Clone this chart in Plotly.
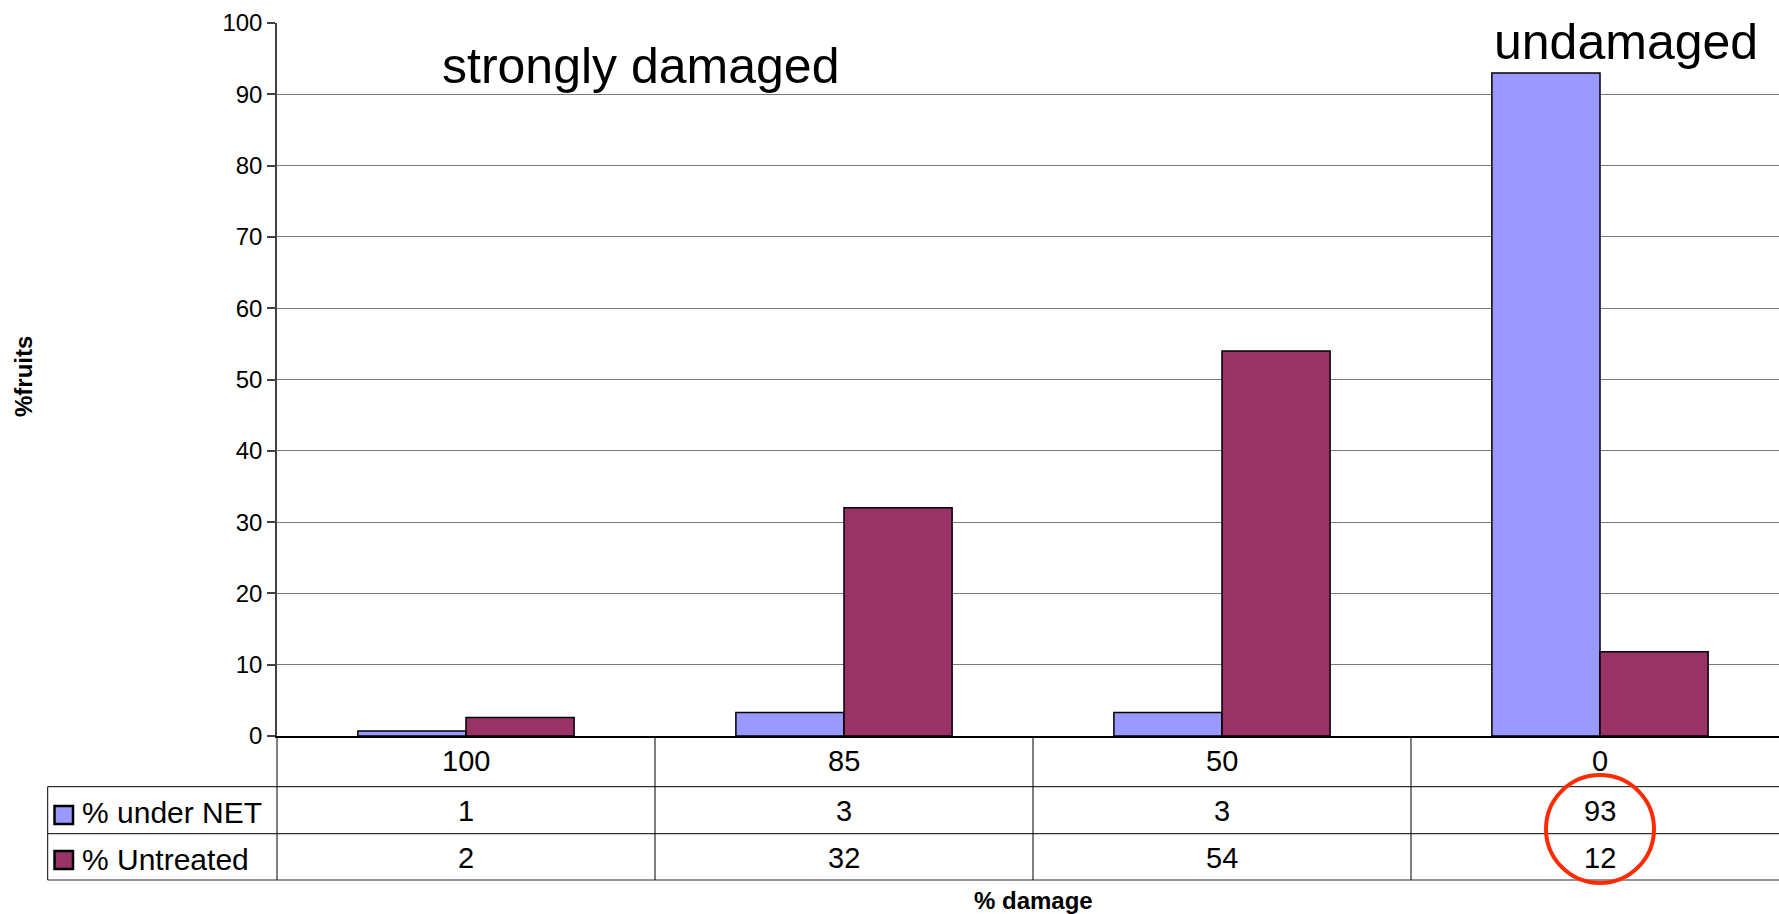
import plotly.graph_objects as go

# ---- data ----
categories = ["100", "85", "50", "0"]
under_net = [0.7, 3.3, 3.3, 93.0]
untreated = [2.6, 32.0, 54.0, 11.8]
under_net_labels = ["1", "3", "3", "93"]
untreated_labels = ["2", "32", "54", "12"]
series_names = ["% under NET", "% Untreated"]
y_ticks = [0, 10, 20, 30, 40, 50, 60, 70, 80, 90, 100]

BLUE = "#9999FF"
MAROON = "#993366"
FONT = "Liberation Sans, Arial, sans-serif"

W, H = 1779, 914
L, R, T, B = 277, 0, 23, 178
PW = W - L - R
PH = H - T - B
CAT_PX = 378.0


def px(x):
    return (x - L) / PW


def py(y):
    return (T + PH - y) / PH


xs = list(range(len(categories)))

fig = go.Figure()
fig.add_trace(go.Bar(x=xs, y=under_net, name=series_names[0],
                     marker=dict(color=BLUE, line=dict(color="black", width=1.5))))
fig.add_trace(go.Bar(x=xs, y=untreated, name=series_names[1],
                     marker=dict(color=MAROON, line=dict(color="black", width=1.5))))

x_hi = -0.5 + PW / CAT_PX

fig.update_layout(
    width=W, height=H,
    margin=dict(l=L, r=R, t=T, b=B, pad=0),
    paper_bgcolor="white", plot_bgcolor="white",
    barmode="group", bargap=0.428, bargroupgap=0,
    showlegend=False,
    font=dict(family=FONT, color="black"),
    xaxis=dict(range=[-0.5, x_hi], showticklabels=False, ticks="", showgrid=False,
               zeroline=False, showline=True, linecolor="black", linewidth=1.5),
    yaxis=dict(range=[0, 100], tickvals=y_ticks, ticks="outside", ticklen=8,
               tickcolor="#404040", tickwidth=1.5, tickfont=dict(size=24, family=FONT),
               showline=True, linecolor="#404040", linewidth=1.5,
               showgrid=True, gridcolor="#7a7a7a", gridwidth=1, zeroline=False),
)

shapes = []
line_k = dict(color="black", width=1)
# horizontal table lines
for yy in [786.7, 833.7]:
    shapes.append(dict(type="line", xref="paper", yref="paper", x0=px(47.7), x1=1.0,
                       y0=py(yy), y1=py(yy), line=line_k))
shapes.append(dict(type="line", xref="paper", yref="paper", x0=px(47.7), x1=1.0,
                   y0=py(880), y1=py(880), line=dict(color="#707070", width=1.5)))
# vertical dividers
for xv in [0.5, 1.5, 2.5]:
    shapes.append(dict(type="line", xref="x", yref="paper", x0=xv, x1=xv,
                       y0=py(736), y1=py(880), line=line_k))
shapes.append(dict(type="line", xref="paper", yref="paper", x0=0, x1=0,
                   y0=py(736), y1=py(880), line=line_k))
shapes.append(dict(type="line", xref="paper", yref="paper", x0=px(47.7), x1=px(47.7),
                   y0=py(786.7), y1=py(880), line=line_k))
# legend squares
for (y0, y1), col in zip([(806, 824), (851, 869)], [BLUE, MAROON]):
    shapes.append(dict(type="rect", xref="paper", yref="paper", x0=px(54.5), x1=px(73),
                       y0=py(y1), y1=py(y0), fillcolor=col, line=dict(color="black", width=2.5)))
# red circle
r_x = 54 / CAT_PX
shapes.append(dict(type="circle", xref="x", yref="paper", x0=3 - r_x, x1=3 + r_x,
                   y0=py(883), y1=py(775), line=dict(color="#FF2A00", width=4)))
fig.update_layout(shapes=shapes)

ann = []
TF = dict(size=29, family=FONT, color="black")
for i, c in enumerate(categories):
    ann.append(dict(x=i, xref="x", y=py(761), yref="paper", text=c, showarrow=False,
                    font=TF, xanchor="center", yanchor="middle"))
    ann.append(dict(x=i, xref="x", y=py(811), yref="paper", text=under_net_labels[i],
                    showarrow=False, font=TF, xanchor="center", yanchor="middle"))
    ann.append(dict(x=i, xref="x", y=py(858), yref="paper", text=untreated_labels[i],
                    showarrow=False, font=TF, xanchor="center", yanchor="middle"))
LF = dict(size=30, family=FONT, color="black")
for name, yy in zip(series_names, [813, 859]):
    ann.append(dict(x=px(80), xref="paper", y=py(yy), yref="paper", text=name,
                    showarrow=False, font=LF, xanchor="left", yanchor="middle"))

ann.append(dict(x=px(640), xref="paper", y=py(66), yref="paper", text="strongly damaged",
                showarrow=False, font=dict(size=50, family=FONT, color="black"),
                xanchor="center", yanchor="middle"))
ann.append(dict(x=px(1626), xref="paper", y=py(42), yref="paper", text="undamaged",
                showarrow=False, font=dict(size=50, family=FONT, color="black"),
                xanchor="center", yanchor="middle"))
ann.append(dict(x=px(1033), xref="paper", y=py(901), yref="paper", text="<b>% damage</b>",
                showarrow=False, font=dict(size=24, family=FONT, color="black"),
                xanchor="center", yanchor="middle"))
ann.append(dict(x=px(23), xref="paper", y=py(377), yref="paper", text="<b>%fruits</b>",
                showarrow=False, font=dict(size=24, family=FONT, color="black"),
                textangle=-90, xanchor="center", yanchor="middle"))
fig.update_layout(annotations=ann)

fig.write_html("out.html")
